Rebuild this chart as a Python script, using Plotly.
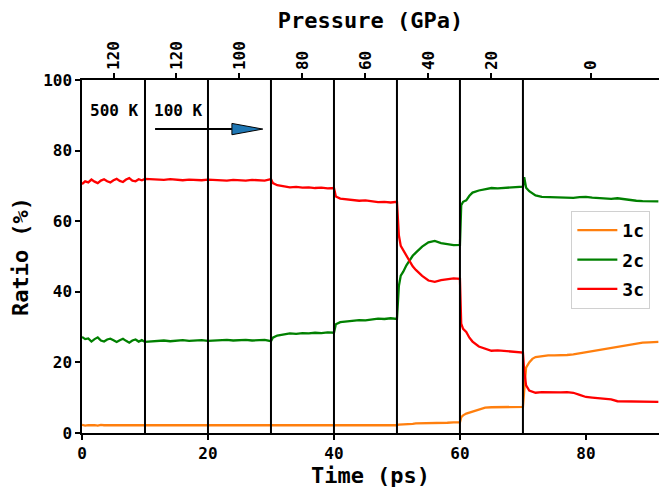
import plotly.graph_objects as go

# ---------------- data ----------------
time_ps = [
    0, 0.5, 1, 1.5, 2, 2.5, 3, 3.5, 4, 4.5, 5, 5.5, 6, 6.5, 7, 7.5, 8, 8.5, 9, 9.5, 10,
    11, 12, 13, 14, 15, 16, 17, 18, 19, 20, 21, 22, 23, 24, 25, 26, 27, 28, 29, 30,
    30.3, 31, 32, 33, 34, 35, 36, 37, 38, 39, 40,
    40.3, 41, 42, 43, 44, 45, 46, 47, 48, 49, 50,
    50.3, 50.6, 51, 51.5, 52, 52.5, 53, 54, 55, 56, 57, 58, 59, 60,
    60.2, 60.5, 61, 61.5, 62, 63, 64, 65, 66, 67, 68, 69, 70,
    70.2, 70.5, 71, 71.5, 72, 73, 74, 75, 76, 77, 78, 79, 80, 81, 82, 83, 84, 85, 86, 87, 88, 89, 90, 91, 91.5,
]

ratio_1c = [
    2.3, 2.1, 2.2, 2.3, 2.2, 2.1, 2.3, 2.2, 2.2, 2.3, 2.1, 2.2, 2.3, 2.2, 2.1, 2.2, 2.3, 2.2, 2.2, 2.1, 2.2,
    2.1, 2.1, 2.1, 2.1, 2.1, 2.1, 2.1, 2.1, 2.1, 2.1, 2.1, 2.1, 2.1, 2.1, 2.1, 2.1, 2.1, 2.1, 2.1, 2.1,
    2.2, 2.2, 2.2, 2.2, 2.2, 2.2, 2.2, 2.2, 2.2, 2.2, 2.2,
    2.2, 2.2, 2.2, 2.2, 2.2, 2.2, 2.2, 2.2, 2.2, 2.2, 2.2,
    2.4, 2.4, 2.5, 2.5, 2.6, 2.6, 2.7, 2.7, 2.8, 2.8, 2.9, 2.9, 3.0, 3.0,
    4.5, 5.0, 5.5, 5.8, 6.0, 6.8, 7.2, 7.3, 7.3, 7.4, 7.4, 7.4, 7.4,
    12.0, 18.5, 20.0, 21.0, 21.5, 21.8, 22.0, 22.0, 22.0, 22.1, 22.3, 22.6, 23.0, 23.4, 23.7, 24.0, 24.3, 24.6, 24.9, 25.2, 25.4, 25.6, 25.7, 25.8, 25.8,
]

ratio_2c = [
    27.2, 26.6, 26.8, 25.9, 26.6, 27.1, 26.2, 25.9, 26.5, 26.7, 26.3, 25.8, 26.3, 26.7, 26.1, 25.6, 26.2, 26.5, 25.9, 26.3, 25.8,
    26.0, 26.1, 26.2, 26.0, 26.1, 26.3, 26.1, 26.2, 26.3, 26.1, 26.2, 26.3, 26.4, 26.2, 26.3, 26.4, 26.2, 26.3, 26.4, 26.0,
    27.0, 27.6, 28.0, 28.2, 28.1, 28.3, 28.2, 28.4, 28.3, 28.5, 28.4,
    30.8, 31.4, 31.6, 31.8, 32.0, 31.9, 32.2, 32.4, 32.3, 32.5, 32.3,
    41.6, 44.6, 45.7, 47.5, 48.9, 50.2, 51.1, 52.8, 54.0, 54.4, 53.8, 53.5, 53.2, 53.3,
    64.5, 65.5, 65.9, 67.2, 68.1, 68.7, 69.0, 69.4, 69.3, 69.4, 69.6, 69.7, 69.8,
    72.5, 69.5, 68.5, 67.8, 67.3, 66.9, 66.8, 66.7, 66.8, 66.7, 66.6, 66.8, 66.9, 66.7, 66.6, 66.5, 66.3, 66.5, 66.2, 66.0, 65.8, 65.7, 65.6, 65.6, 65.6,
]

ratio_3c = [
    70.5, 71.3, 71.0, 71.8, 71.2, 70.8, 71.5, 71.9, 71.3, 71.0, 71.6, 72.0, 71.4, 71.1, 71.8, 72.2, 71.5, 71.3, 71.9, 71.6, 72.0,
    71.9, 71.8, 71.7, 71.9, 71.8, 71.6, 71.8, 71.7, 71.6, 71.8, 71.7, 71.6, 71.5, 71.7, 71.6, 71.5, 71.7, 71.6, 71.5, 71.9,
    70.8, 70.2, 69.8, 69.6, 69.7, 69.5, 69.6, 69.4, 69.5, 69.3, 69.4,
    67.0, 66.4, 66.2, 66.0, 65.8, 65.9, 65.6, 65.4, 65.5, 65.3, 65.5,
    56.0, 53.0, 51.8, 50.0, 48.5, 47.2, 46.2, 44.5, 43.2, 42.8, 43.3, 43.6, 43.8, 43.7,
    31.0, 29.5, 28.6, 27.0, 25.9, 24.5, 23.8, 23.3, 23.4, 23.2, 23.0, 22.9, 22.8,
    17.5, 13.5, 12.0, 11.6, 11.4, 11.6, 11.5, 11.6, 11.5, 11.6, 11.4, 10.8, 10.2, 10.0, 9.8, 9.6, 9.5, 9.0, 9.0, 8.9, 8.9, 8.8, 8.8, 8.8, 8.8,
]

series_names = ["1c", "2c", "3c"]
series_colors = ["#ff7f0e", "#008000", "#ff0000"]

boundaries = [10, 20, 30, 40, 50, 60, 70]
pressure_pos = [5, 15, 25, 35, 45, 55, 65, 80.75]
pressure_labels = ["120", "120", "100", "80", "60", "40", "20", "0"]

temp_labels = ["500 K", "100 K"]
temp_label_x = [5.2, 15.3]

# ---------------- figure ----------------
FONT = "DejaVu Sans Mono"
fig = go.Figure()

for name, vals, col in zip(series_names, [ratio_1c, ratio_2c, ratio_3c], series_colors):
    fig.add_trace(go.Scatter(x=time_ps, y=vals, mode="lines", name=name, legendgroup=name,
                             line=dict(color=col, width=2.3)))

# invisible trace for top axis
fig.add_trace(go.Scatter(x=[0, 91.6], y=[None, None], xaxis="x2", showlegend=False,
                         hoverinfo="skip"))

shapes = []
for b in boundaries:
    shapes.append(dict(type="line", xref="x", yref="paper", x0=b, x1=b, y0=0, y1=1,
                       line=dict(color="black", width=2)))

# arrow: shaft + head
shapes.append(dict(type="line", xref="x", yref="y", x0=11.6, x1=23.8, y0=86.1, y1=86.1,
                   line=dict(color="black", width=2)))
shapes.append(dict(type="path", xref="x", yref="y",
                   path="M 23.8 84.5 L 28.7 86.1 L 23.8 87.7 Z",
                   fillcolor="#1f77b4", line=dict(color="black", width=1)))

annotations = []
for t, x in zip(temp_labels, temp_label_x):
    annotations.append(dict(x=x, y=91.5, xref="x", yref="y", text=t,
                            showarrow=False,
                            font=dict(family=FONT, size=16, color="black", weight="bold")))

tick_font = dict(family=FONT, size=16, color="black", weight="bold")
title_font = dict(family=FONT, size=22, color="black", weight="bold")

fig.update_layout(
    width=660, height=491,
    margin=dict(l=82, r=1, t=80, b=58),
    paper_bgcolor="white", plot_bgcolor="white",
    showlegend=True,
    font=dict(family=FONT, color="black"),
    shapes=shapes, annotations=annotations,
    legend=dict(x=0.985, y=0.629, xanchor="right", yanchor="top",
                bgcolor="rgba(255,255,255,0.9)", bordercolor="#d0d0d0", borderwidth=1,
                font=dict(family=FONT, size=18, color="black", weight="bold"),
                itemwidth=40, tracegroupgap=3),
    xaxis=dict(range=[0, 91.6], showgrid=False, zeroline=False,
               showline=True, linecolor="black", linewidth=1.5,
               ticks="outside", ticklen=5, tickwidth=1.5, tickcolor="black",
               tickvals=[0, 20, 40, 60, 80],
               tickfont=tick_font,
               title=dict(text="Time (ps)", font=title_font, standoff=4)),
    xaxis2=dict(range=[0, 91.6], overlaying="x", side="top", showgrid=False, zeroline=False,
                showline=True, linecolor="black", linewidth=1.5,
                ticks="outside", ticklen=5, tickwidth=1.5, tickcolor="black",
                tickvals=pressure_pos, ticktext=pressure_labels,
                tickangle=-90, tickfont=tick_font,
                title=dict(text="Pressure (GPa)", font=title_font, standoff=6)),
    yaxis=dict(range=[0, 100], showgrid=False, zeroline=False,
               showline=True, linecolor="black", linewidth=1.5,
               ticks="outside", ticklen=5, tickwidth=1.5, tickcolor="black",
               tickvals=[0, 20, 40, 60, 80, 100],
               tickfont=tick_font,
               title=dict(text="Ratio (%)", font=title_font, standoff=8)),
)

fig.write_html("out.html")
